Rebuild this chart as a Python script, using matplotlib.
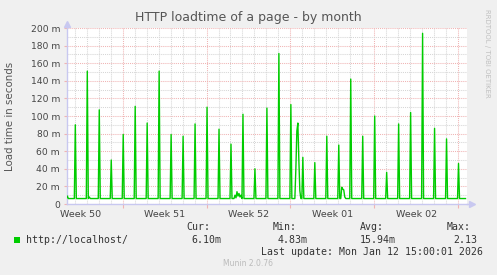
import matplotlib
matplotlib.use("Agg")
import matplotlib.pyplot as plt
import matplotlib.dates as mdates
from matplotlib.patches import Rectangle
from matplotlib.ticker import FixedLocator, MultipleLocator, FuncFormatter
import numpy as np
import pandas as pd

# --- data (milliseconds) ---
baseline_ms = 6.2
# daily spike around 01:00, Dec 11 .. Jan 12
spike_days = pd.date_range("2025-12-11 01:00", "2026-01-12 01:00", freq="D")
spike_ms = [90, 151, 107, 50, 79, 111, 92, 151, 79, 77, 91, 110, 85, 68, 102, 40,
            109, 171, 113, 53, 47, 77, 67, 142, 77, 100, 36, 91, 104, 194, 86, 74, 46]
# other small bumps
extra_times = ["2025-12-10 09:00", "2025-12-12 05:00",
               "2025-12-24 09:00", "2025-12-24 11:00", "2025-12-24 13:00", "2025-12-24 15:00",
               "2025-12-24 17:00", "2025-12-24 19:00", "2025-12-24 21:00",
               "2025-12-29 11:00", "2025-12-29 13:00", "2025-12-29 15:00", "2025-12-29 17:00",
               "2025-12-29 19:00",
               "2026-01-02 07:00", "2026-01-02 09:00", "2026-01-02 11:00", "2026-01-02 13:00"]
extra_ms = [9, 8,
            10, 7, 14, 9, 12, 8, 10,
            40, 83, 92, 50, 15,
            19, 17, 16, 8]

week_labels = ["Week 50", "Week 51", "Week 52", "Week 01", "Week 02"]
week_mid = pd.to_datetime(["2025-12-11 12:00", "2025-12-18 12:00", "2025-12-25 12:00",
                           "2026-01-01 12:00", "2026-01-08 12:00"])
week_start = pd.to_datetime(["2025-12-15", "2025-12-22", "2025-12-29", "2026-01-05", "2026-01-12"])

legend_name = "http://localhost/"
legend_cur, legend_min, legend_avg, legend_max = "6.10m", "4.83m", "15.94m", "2.13"

# build the 2h series
times = pd.date_range("2025-12-10 07:00", "2026-01-12 15:00", freq="2h")
values = np.full(len(times), baseline_ms)
s = pd.Series(values, index=times)
for d, h in zip(spike_days, spike_ms):
    s[d] = h
for t, v in zip(pd.to_datetime(extra_times), extra_ms):
    s[t] = v

W, H = 497, 275
def fx(x): return x / W
def fy(y): return 1 - y / H

fig = plt.figure(figsize=(W / 100, H / 100), dpi=100, facecolor="#F0F0F0")
ax = fig.add_axes([fx(67), fy(204), 400 / W, 176 / H], facecolor="white")

ax.plot(s.index, s.values, color="#00CC00", lw=1.0, zorder=3)

ax.set_xlim(pd.Timestamp("2025-12-10 08:20"), pd.Timestamp("2026-01-12 18:00"))
ax.set_ylim(0, 200)

# grid
ax.xaxis.set_major_locator(FixedLocator(mdates.date2num(week_start)))
ax.xaxis.set_minor_locator(mdates.DayLocator())
ax.xaxis.set_major_formatter(FuncFormatter(lambda v, p: ""))
ax.yaxis.set_major_locator(MultipleLocator(20))
ax.yaxis.set_minor_locator(MultipleLocator(10))
ax.yaxis.set_major_formatter(FuncFormatter(lambda v, p: "0" if v == 0 else "%d m" % v))

ax.grid(which="minor", color="#D6D6D6", lw=0.75, ls=(0, (1, 1)), zorder=1)
ax.grid(which="major", color="#F0B4B4", lw=0.75, ls=(0, (1, 1)), zorder=2)

ax.tick_params(axis="y", which="major", length=2, color="#F0B4B4", labelsize=6.6,
               labelcolor="#444444", pad=3)
ax.tick_params(axis="y", which="minor", length=0)
ax.tick_params(axis="x", which="major", length=3, color="#F0B4B4", direction="out")
ax.tick_params(axis="x", which="minor", length=0)

for sp in ["top", "right"]:
    ax.spines[sp].set_visible(False)
for sp in ["left", "bottom"]:
    ax.spines[sp].set_color("#C8C8F0")
    ax.spines[sp].set_linewidth(1.0)
ax.plot([1, 1.012], [0, 0], color="#C8C8F0", lw=1.0, transform=ax.transAxes, clip_on=False)
ax.plot([1.012], [0], marker=">", ms=5, color="#C8C8F0", transform=ax.transAxes, clip_on=False)
ax.plot([0], [1.02], marker="^", ms=5, color="#C8C8F0", transform=ax.transAxes, clip_on=False)

trans = ax.get_xaxis_transform()
for lab, t in zip(week_labels, week_mid):
    ax.text(mdates.date2num(t), -0.035, lab, transform=trans, ha="center", va="top",
            fontsize=6.8, color="#444444")

fig.text(fx(248), fy(18), "HTTP loadtime of a page - by month", ha="center", va="center",
         fontsize=9, color="#555555")
fig.text(fx(10), fy(116), "Load time in seconds", rotation=90, ha="center", va="center",
         fontsize=7.4, color="#555555")
fig.text(fx(487.5), fy(53), "RRDTOOL / TOBI OETIKER", rotation=270, ha="center", va="center",
         fontsize=5, color="#C0C0C0")

mono = dict(family="DejaVu Sans Mono", fontsize=7.1, color="#333333", va="center")
for lab, x in zip(["Cur:", "Min:", "Avg:", "Max:"], [186, 273, 360, 447]):
    fig.text(fx(x), fy(227.5), lab, ha="left", **mono)
fig.patches.append(Rectangle((fx(14), fy(243)), 6 / W, 6 / H, transform=fig.transFigure,
                             facecolor="#00CC00", edgecolor="none"))
fig.text(fx(26), fy(240), legend_name, ha="left", **mono)
for val, x in zip([legend_cur, legend_min, legend_avg, legend_max], [221, 308, 396, 477]):
    fig.text(fx(x), fy(240), val, ha="right", **mono)
fig.text(fx(483), fy(252), "Last update: Mon Jan 12 15:00:01 2026", ha="right", **mono)
fig.text(fx(248), fy(264), "Munin 2.0.76", ha="center", va="center", fontsize=5.5,
         color="#BBBBBB")

fig.savefig("out.png", dpi=100, facecolor=fig.get_facecolor())
